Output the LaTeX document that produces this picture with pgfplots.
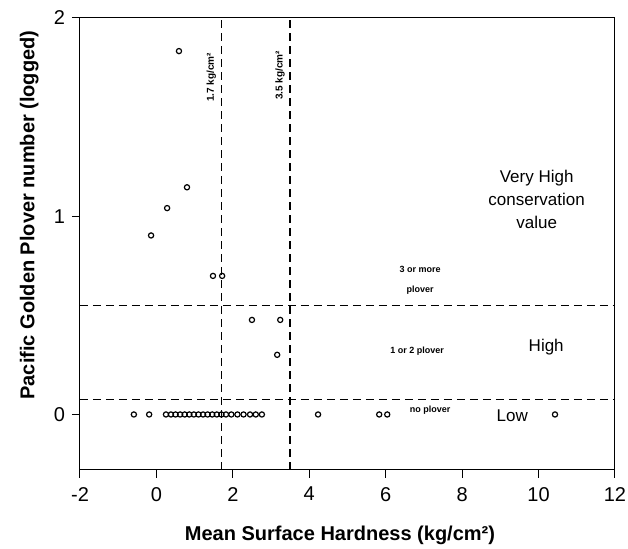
\documentclass[border=0pt]{standalone}
\usepackage{fontspec}
\setmainfont{Liberation Sans}
\usepackage{pgfplots}
\pgfplotsset{compat=1.18}

% Sites with no plovers sit on the zero line
\pgfplotstableread{
x y
-0.59 0
-0.19 0
0.25 0
0.38 0
0.50 0
0.62 0
0.74 0
0.86 0
0.98 0
1.10 0
1.22 0
1.34 0
1.46 0
1.58 0
1.70 0
1.82 0
1.96 0
2.12 0
2.28 0
2.45 0
2.60 0
2.76 0
4.23 0
5.83 0
6.04 0
10.43 0
}\noplover

% Sites with plovers present (log10 of count)
\pgfplotstableread{
x y
0.59 1.833
0.80 1.146
0.28 1.041
-0.14 0.903
1.48 0.699
1.72 0.699
2.50 0.477
3.24 0.477
3.16 0.301
}\plover

\begin{document}
\begin{tikzpicture}
\path[use as bounding box] (-40pt,-39.5pt) rectangle (274pt,235pt);
\begin{axis}[
  at={(0,0)}, anchor=south west,
  width=267.5pt, height=226pt, scale only axis,
  xmin=-2, xmax=12, ymin=-0.28, ymax=2,
  xtick={-2,0,...,12}, ytick={0,1,2},
  tick align=outside, tick pos=left,
  major tick length=4pt,
  axis line style={line width=0.5pt},
  tick style={line width=0.5pt, black},
  /pgf/number format/assume math mode=true,
  ticklabel style={font=\fontsize{10}{12}\selectfont},
  xticklabel style={yshift=-1pt},
  xlabel={Mean Surface Hardness (kg/cm²)},
  ylabel={Pacific Golden Plover number (logged)},
  label style={font=\bfseries\fontsize{10}{12}\selectfont},
  xlabel style={at={(axis description cs:0.486,-0.144)}, anchor=center},
  ylabel style={at={(axis description cs:-0.095,0.564)}, anchor=center},
  clip=false,
]
% threshold lines
\addplot[black, line width=0.85pt, dash pattern=on 4pt off 2.5pt] coordinates {(1.7,-0.28) (1.7,2)};
\addplot[black, line width=0.85pt, dash pattern=on 4pt off 2.5pt] coordinates {(3.5,-0.28) (3.5,2)};
\addplot[black, line width=0.85pt, dash pattern=on 4pt off 2.5pt] coordinates {(-2,0.55) (12,0.55)};
\addplot[black, line width=0.85pt, dash pattern=on 4pt off 2.5pt] coordinates {(-2,0.075) (12,0.075)};

% survey sites
\addplot[only marks, mark=o, mark size=1.3pt, mark options={line width=0.6pt, black}] table {\noplover};
\addplot[only marks, mark=o, mark size=1.3pt, mark options={line width=0.6pt, black}] table {\plover};

% threshold labels
\node[rotate=90, anchor=south, inner sep=2.5pt, font=\bfseries\fontsize{5}{6}\selectfont] at (axis cs:1.7,1.70) {1.7 kg/cm²};
\node[rotate=90, anchor=south, inner sep=2.5pt, font=\bfseries\fontsize{5}{6}\selectfont] at (axis cs:3.5,1.71) {3.5 kg/cm²};

% category labels
\node[align=center, font=\fontsize{8.5}{11.5}\selectfont] at (axis cs:9.95,1.085) {Very High\\conservation\\value};
\node[font=\fontsize{8.5}{10}\selectfont] at (axis cs:10.2,0.338) {High};
\node[font=\fontsize{8.5}{10}\selectfont] at (axis cs:9.31,-0.005) {Low};
\node[align=center, font=\bfseries\fontsize{4.5}{10}\selectfont] at (axis cs:6.9,0.675) {3 or more\\plover};
\node[font=\bfseries\fontsize{4.5}{6}\selectfont] at (axis cs:6.82,0.317) {1 or 2 plover};
\node[font=\bfseries\fontsize{4.5}{6}\selectfont] at (axis cs:7.16,0.02) {no plover};
\end{axis}
\end{tikzpicture}
\end{document}
